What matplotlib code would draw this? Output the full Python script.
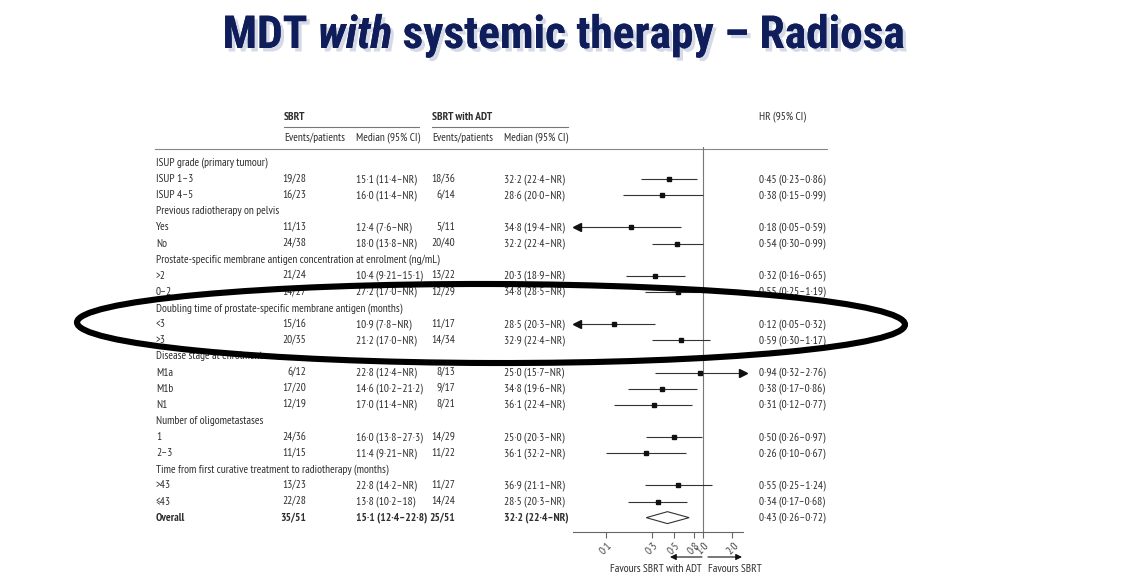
import matplotlib
matplotlib.use('Agg')
import matplotlib.pyplot as plt
import matplotlib.patheffects as pe
from matplotlib.patches import Ellipse, Polygon
from matplotlib.ticker import FixedLocator, NullLocator, FixedFormatter

# ---------------- data ----------------
title_parts = ["MDT", "with", "systemic therapy – Radiosa"]
title_styles = ["normal", "italic", "normal"]

row_labels = [
    "ISUP grade (primary tumour)", "ISUP 1–3", "ISUP 4–5",
    "Previous radiotherapy on pelvis", "Yes", "No",
    "Prostate-specific membrane antigen concentration at enrolment (ng/mL)", ">2", "0–2",
    "Doubling time of prostate-specific membrane antigen (months)", "<3", ">3",
    "Disease stage at enrolment", "M1a", "M1b", "N1",
    "Number of oligometastases", "1", "2–3",
    "Time from first curative treatment to radiotherapy (months)", ">43", "≤43",
    "Overall",
]
is_group = [True, False, False, True, False, False, True, False, False, True, False, False,
            True, False, False, False, True, False, False, True, False, False, False]

sbrt_events = ["19/28", "16/23", "11/13", "24/38", "21/24", "14/27", "15/16", "20/35",
               "6/12", "17/20", "12/19", "24/36", "11/15", "13/23", "22/28", "35/51"]
sbrt_median = ["15·1 (11·4–NR)", "16·0 (11·4–NR)", "12·4 (7·6–NR)", "18·0 (13·8–NR)",
               "10·4 (9·21–15·1)", "27·2 (17·0–NR)", "10·9 (7·8–NR)", "21·2 (17·0–NR)",
               "22·8 (12·4–NR)", "14·6 (10·2–21·2)", "17·0 (11·4–NR)", "16·0 (13·8–27·3)",
               "11·4 (9·21–NR)", "22·8 (14·2–NR)", "13·8 (10·2–18)", "15·1 (12·4–22·8)"]
adt_events = ["18/36", "6/14", "5/11", "20/40", "13/22", "12/29", "11/17", "14/34",
              "8/13", "9/17", "8/21", "14/29", "11/22", "11/27", "14/24", "25/51"]
adt_median = ["32·2 (22·4–NR)", "28·6 (20·0–NR)", "34·8 (19·4–NR)", "32·2 (22·4–NR)",
              "20·3 (18·9–NR)", "34·8 (28·5–NR)", "28·5 (20·3–NR)", "32·9 (22·4–NR)",
              "25·0 (15·7–NR)", "34·8 (19·6–NR)", "36·1 (22·4–NR)", "25·0 (20·3–NR)",
              "36·1 (32·2–NR)", "36·9 (21·1–NR)", "28·5 (20·3–NR)", "32·2 (22·4–NR)"]
hr = [0.45, 0.38, 0.18, 0.54, 0.32, 0.55, 0.12, 0.59, 0.94, 0.38, 0.31, 0.50, 0.26, 0.55, 0.34, 0.43]
hr_lo = [0.23, 0.15, 0.05, 0.30, 0.16, 0.25, 0.05, 0.30, 0.32, 0.17, 0.12, 0.26, 0.10, 0.25, 0.17, 0.26]
hr_hi = [0.86, 0.99, 0.59, 0.99, 0.65, 1.19, 0.32, 1.17, 2.76, 0.86, 0.77, 0.97, 0.67, 1.24, 0.68, 0.72]
arrow_left = [False, False, True, False, False, False, True, False, False, False, False, False, False, False, False, False]
arrow_right = [False, False, False, False, False, False, False, False, True, False, False, False, False, False, False, False]

tick_values = [0.1, 0.3, 0.5, 0.8, 1.0, 2.0]
tick_labels = ["0·1", "0·3", "0·5", "0·8", "1·0", "2·0"]
favours_left = "Favours SBRT with ADT"
favours_right = "Favours SBRT"

# ---------------- layout / style ----------------
W, H, DPI = 1137, 575, 100
TITLE_FONT = ['Roboto Condensed', 'Liberation Sans', 'DejaVu Sans']
TAB_FONT = ['PT Sans Narrow', 'Roboto Condensed', 'DejaVu Sans']
NAVY = '#0f1e5a'
TXT = '#2e2e2e'
FS = 8.2
ROW0, ROWH = 163.0, 16.12
X_LABEL, X_SEV, X_SMED, X_AEV, X_AMED, X_HR = 156, 306, 356, 455, 504, 759

def dot(v):
    return f"{v:.2f}".replace('.', '·')

fig = plt.figure(figsize=(W / DPI, H / DPI), dpi=DPI)
fig.patch.set_facecolor('white')

ax = fig.add_axes([0, 0, 1, 1])
ax.set_xlim(0, W)
ax.set_ylim(H, 0)
ax.axis('off')

# ---- title (fit to the reference's width) ----
r = fig.canvas.get_renderer()
def measure(fs):
    p1 = ax.text(0, 0, "M M", fontsize=fs, fontweight='bold', family=TITLE_FONT)
    p2 = ax.text(0, 0, "MM", fontsize=fs, fontweight='bold', family=TITLE_FONT)
    sw = p1.get_window_extent(r).width - p2.get_window_extent(r).width
    p1.remove(); p2.remove()
    ws = []
    for p, s in zip(title_parts, title_styles):
        t = ax.text(0, 0, p, fontsize=fs, fontweight='bold', fontstyle=s, family=TITLE_FONT)
        ws.append(t.get_window_extent(r).width)
        t.remove()
    return sw, ws
sw, ws = measure(33)
TFS = 33 * 683.0 / (sum(ws) + 2 * sw)
sw, ws = measure(TFS)
shadow = [pe.withSimplePatchShadow(offset=(2.5, -2.5), shadow_rgbFace='#9aa4c4', alpha=0.4), pe.Normal()]
x = 563.5 - (sum(ws) + 2 * sw) / 2
for p, s, w in zip(title_parts, title_styles, ws):
    ax.text(x, 48, p, fontsize=TFS, fontweight='bold', fontstyle=s, family=TITLE_FONT,
            color=NAVY, va='baseline', ha='left', path_effects=shadow)
    x += w + sw

# ---- table headers ----
hkw = dict(fontsize=FS, family=TAB_FONT, color=TXT, va='center')
ax.text(284, 117, "SBRT", fontweight='bold', ha='left', **hkw)
ax.text(432, 117, "SBRT with ADT", fontweight='bold', ha='left', **hkw)
ax.text(X_HR, 117, "HR (95% CI)", ha='left', **hkw)
ax.text(284, 138, "Events/patients", ha='left', **hkw)
ax.text(432, 138, "Events/patients", ha='left', **hkw)
ax.text(X_SMED, 138, "Median (95% CI)", ha='left', **hkw)
ax.text(X_AMED, 138, "Median (95% CI)", ha='left', **hkw)
ax.plot([284, 419], [127, 127], color='#777', lw=0.8)
ax.plot([432, 568], [127, 127], color='#777', lw=0.8)
ax.plot([155, 827], [149, 149], color='#888', lw=0.8)

# ---- table rows ----
k = 0
for i, (lab, grp) in enumerate(zip(row_labels, is_group)):
    y = ROW0 + i * ROWH
    bold = 'bold' if lab == "Overall" else 'normal'
    ax.text(X_LABEL, y, lab, ha='left', fontweight=bold, **hkw)
    if grp:
        continue
    ax.text(X_SEV, y, sbrt_events[k], ha='right', fontweight=bold, **hkw)
    ax.text(X_SMED, y, sbrt_median[k], ha='left', fontweight=bold, **hkw)
    ax.text(X_AEV, y, adt_events[k], ha='right', fontweight=bold, **hkw)
    ax.text(X_AMED, y, adt_median[k], ha='left', fontweight=bold, **hkw)
    ax.text(X_HR, y, f"{dot(hr[k])} ({dot(hr_lo[k])}–{dot(hr_hi[k])})", ha='left', **hkw)
    k += 1

# ---- forest plot ----
FL, FR, FT, FB = 573, 743, 147, 532
XMIN = 10 ** ((FL - 703) / 97.0)
XMAX = 10 ** ((FR - 703) / 97.0)
axf = fig.add_axes([FL / W, (H - FB) / H, (FR - FL) / W, (FB - FT) / H])
axf.patch.set_visible(False)
axf.set_xscale('log')
axf.set_xlim(XMIN, XMAX)
axf.set_ylim((FB - ROW0) / ROWH, (FT - ROW0) / ROWH)
for s in ['top', 'left', 'right']:
    axf.spines[s].set_visible(False)
axf.spines['bottom'].set_color('#666')
axf.spines['bottom'].set_linewidth(0.8)
axf.set_yticks([])
axf.xaxis.set_major_locator(FixedLocator(tick_values))
axf.xaxis.set_major_formatter(FixedFormatter(tick_labels))
axf.xaxis.set_minor_locator(NullLocator())
axf.tick_params(axis='x', direction='out', length=4, width=0.8, color='#666',
                labelsize=8.2, labelcolor='#444', pad=2)
for lbl in axf.get_xticklabels():
    lbl.set_rotation(45)
    lbl.set_ha('center')
    lbl.set_family(TAB_FONT)
axf.axvline(1.0, color='#777', lw=0.8)

k = 0
for i, grp in enumerate(is_group):
    if grp:
        continue
    lo = max(hr_lo[k], XMIN)
    hi = min(hr_hi[k], XMAX)
    if row_labels[i] == "Overall":
        d = 0.37
        axf.add_patch(Polygon([(lo, i), (hr[k], i - d), (hi, i), (hr[k], i + d)], closed=True,
                              fc='white', ec='#333', lw=0.8))
    else:
        axf.plot([lo, hi], [i, i], color='#333', lw=0.8, solid_capstyle='butt')
        axf.plot(hr[k], i, marker='s', ms=2.2, color='#111', mec='#111')
        if arrow_left[k]:
            axf.plot(lo, i, marker='<', ms=6, color='#111', mec='#111', clip_on=False)
        if arrow_right[k]:
            axf.plot(hi, i, marker='>', ms=6, color='#111', mec='#111', clip_on=False)
    k += 1

# ---- favours arrows ----
aprops = dict(arrowstyle='-|>', color='#111', lw=0.8, mutation_scale=9, shrinkA=0, shrinkB=0)
ax.annotate('', xy=(670, 557), xytext=(702, 557), arrowprops=aprops)
ax.annotate('', xy=(742, 557), xytext=(708, 557), arrowprops=aprops)
ax.text(702, 569, favours_left, ha='right', **hkw)
ax.text(708, 569, favours_right, ha='left', **hkw)

# ---- hand-drawn emphasis ellipse on top ----
axt = fig.add_axes([0, 0, 1, 1], zorder=10)
axt.set_xlim(0, W)
axt.set_ylim(H, 0)
axt.axis('off')
axt.patch.set_visible(False)
axt.add_patch(Ellipse((491, 323.5), 828, 79, angle=0.15, fill=False, ec='black', lw=4.4))

fig.savefig('out.png', dpi=DPI, facecolor='white')
